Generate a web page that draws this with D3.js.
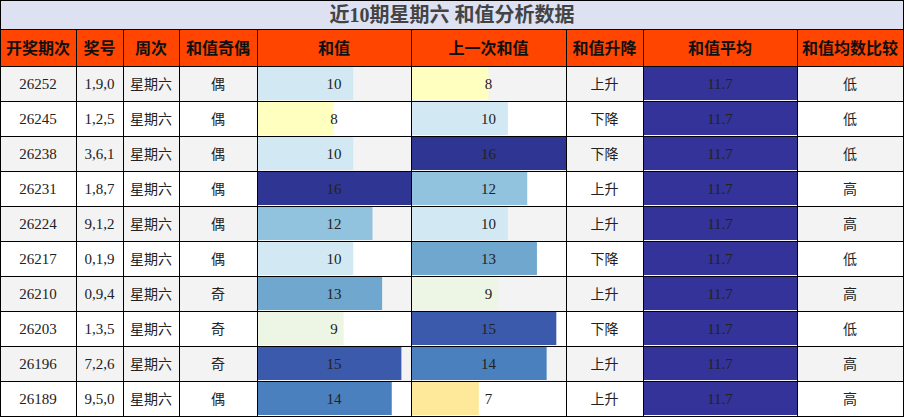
<!DOCTYPE html><html><head><meta charset="utf-8">
<script src="https://cdn.jsdelivr.net/npm/d3@7"></script>
<style>body{margin:0;background:#fff}</style></head><body><svg id="c" width="904" height="417"></svg>
<script>
const title="近10期星期六 和值分析数据";
const headers=["开奖期次","奖号","周次","和值奇偶","和值","上一次和值","和值升降","和值平均","和值均数比较"];
const issues=["26252","26245","26238","26231","26224","26217","26210","26203","26196","26189"];
const numbers=["1,9,0","1,2,5","3,6,1","1,8,7","9,1,2","0,1,9","0,9,4","1,3,5","7,2,6","9,5,0"];
const weekday=["星期六","星期六","星期六","星期六","星期六","星期六","星期六","星期六","星期六","星期六"];
const parity=["偶","偶","偶","偶","偶","偶","奇","奇","奇","偶"];
const sums=[10,8,10,16,12,10,13,9,15,14];
const prevSums=[8,10,16,12,10,13,9,15,14,7];
const trend=["上升","下降","下降","上升","上升","下降","上升","下降","上升","上升"];
const avg=[11.7,11.7,11.7,11.7,11.7,11.7,11.7,11.7,11.7,11.7];
const compare=["低","低","低","高","高","低","高","低","高","高"];
const colEdges=[0,76,123,179,257,411,566,643,797,903];
const colorMap={7:"#fee89a",8:"#ffffc0",9:"#edf5e4",10:"#d2e9f4",12:"#91c3df",13:"#6fa7cf",14:"#4a80bd",15:"#3b5aab",16:"#2f3592"};
const svg=d3.select("#c");
const titleH=29,headH=37,rowH=35;
const y=d3.scaleBand().domain(d3.range(10)).range([titleH+headH,titleH+headH+rowH*10]);
const sans="'Noto Sans CJK SC','Noto Sans',sans-serif",serif="'Liberation Serif',serif";
svg.append("rect").attr("x",0).attr("y",0).attr("width",903).attr("height",titleH).attr("fill","#dde1f2");
svg.append("text").attr("x",452).attr("y",22).attr("text-anchor","middle").attr("font-family",serif+",'Noto Sans CJK SC'").attr("font-weight","bold").attr("font-size",20).attr("fill","#444").text(title);
svg.append("rect").attr("x",0).attr("y",titleH).attr("width",903).attr("height",headH).attr("fill","#ff4500");
headers.forEach((h,i)=>svg.append("text").attr("x",(colEdges[i]+colEdges[i+1])/2).attr("y",titleH+headH/2+6).attr("text-anchor","middle").attr("font-family",sans).attr("font-weight","bold").attr("font-size",16).attr("fill","#111").text(h));
const cols=[issues,numbers,weekday,parity,sums,prevSums,trend,avg,compare];
const xs=d3.scaleLinear().domain([0,16]);
d3.range(10).forEach(r=>{
  const yy=y(r);
  svg.append("rect").attr("x",0).attr("y",yy).attr("width",903).attr("height",rowH).attr("fill",r%2?"#fff":"#f3f3f3");
  cols.forEach((col,c)=>{
    const x0=colEdges[c],x1=colEdges[c+1];
    let v=col[r];
    if(c===4||c===5){
      xs.range([x0,x1]);
      svg.append("rect").attr("x",x0+1).attr("y",yy+1).attr("width",xs(v)-x0-1).attr("height",rowH-2).attr("fill",colorMap[v]);
    }
    if(c===7) svg.append("rect").attr("x",x0+1).attr("y",yy+1).attr("width",x1-x0-1).attr("height",rowH-2).attr("fill","#333399");
    const isNum=/^[0-9.,]+$/.test(String(v));
    svg.append("text").attr("x",(x0+x1)/2).attr("y",yy+rowH/2+5).attr("text-anchor","middle")
      .attr("font-family",isNum?serif:sans).attr("font-size",isNum?15:14).attr("fill","#222").text(v);
  });
});
const g=svg.append("g").attr("stroke","#000").attr("stroke-width",1);
colEdges.forEach(x=>g.append("line").attr("x1",x+0.5).attr("x2",x+0.5).attr("y1",x===0||x===903?0:titleH).attr("y2",416));
g.append("line").attr("x1",0).attr("x2",904).attr("y1",0.5).attr("y2",0.5);
g.append("line").attr("x1",0).attr("x2",904).attr("y1",titleH+0.5).attr("y2",titleH+0.5);
d3.range(11).forEach(r=>{const yy=titleH+headH+r*rowH;g.append("line").attr("x1",0).attr("x2",904).attr("y1",yy+0.5).attr("y2",yy+0.5);});
</script></body></html>
